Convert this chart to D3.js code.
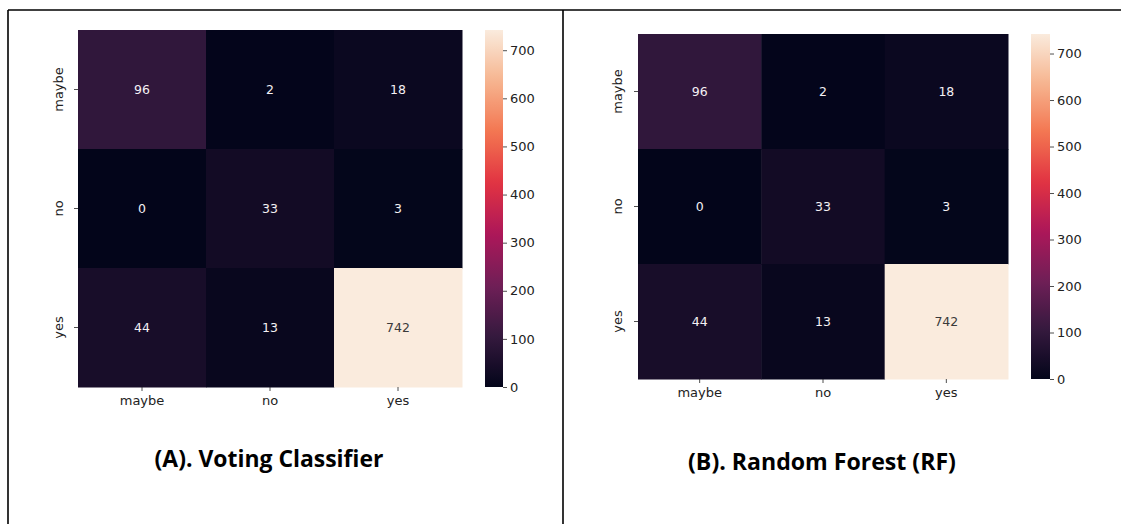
<!DOCTYPE html>
<html>
<head>
<meta charset="utf-8">
<script src="https://cdn.jsdelivr.net/npm/d3@7"></script>
<style>
  html, body { margin: 0; padding: 0; background: #fff; }
  svg { display: block; }
</style>
</head>
<body>
<svg id="chart" width="1121" height="524"></svg>
<script>
// ---- data ----
const categories = ["maybe", "no", "yes"];
const votingValues = [
  [96, 2, 18],
  [0, 33, 3],
  [44, 13, 742]
];
const rfValues = [
  [96, 2, 18],
  [0, 33, 3],
  [44, 13, 742]
];
const colorbarTicks = [0, 100, 200, 300, 400, 500, 600, 700];
const panelTitles = ["(A). Voting Classifier", "(B). Random Forest (RF)"];
// seaborn "rocket" colormap samples
const rocketStops = ["#03051a", "#35193e", "#701f57", "#ad1759", "#e13342", "#f37651", "#f6b48f", "#faebdd"];
const rocketPos = [0, 1/7, 2/7, 3/7, 4/7, 5/7, 6/7, 1];

// ---- layout ----
const panels = [
  { values: votingValues, title: panelTitles[0],
    x0: 78, x1: 462, y0: 30, y1: 387,
    cbx: 485, cbw: 18, titleX: 269, titleY: 467, titleW: 229, ylabX: 63 },
  { values: rfValues, title: panelTitles[1],
    x0: 638, x1: 1008, y0: 34, y1: 379,
    cbx: 1031, cbw: 19, titleX: 822, titleY: 470, titleW: 268, ylabX: 622 }
];

const svg = d3.select("#chart");
const tickFont = "DejaVu Sans, sans-serif";
const textColor = "#222";

const rocketPiece = d3.scaleLinear().domain(rocketPos).range(rocketStops).interpolate(d3.interpolateRgb).clamp(true);

// table border lines
svg.append("line").attr("x1", 8).attr("x2", 1121).attr("y1", 10).attr("y2", 10)
  .attr("stroke", "#000").attr("stroke-width", 1.6);
svg.append("line").attr("x1", 8).attr("x2", 8).attr("y1", 10).attr("y2", 524)
  .attr("stroke", "#000").attr("stroke-width", 1.6);
svg.append("line").attr("x1", 563).attr("x2", 563).attr("y1", 10).attr("y2", 524)
  .attr("stroke", "#000").attr("stroke-width", 1.6);

const defs = svg.append("defs");

panels.forEach((p, pi) => {
  const allVals = p.values.flat();
  const vmax = d3.max(allVals), vmin = 0;
  const color = v => rocketPiece((v - vmin) / (vmax - vmin));

  const x = d3.scaleBand().domain(categories).range([p.x0, p.x1]).padding(0);
  const y = d3.scaleBand().domain(categories).range([p.y0, p.y1]).padding(0);

  const g = svg.append("g");
  const cells = [];
  p.values.forEach((row, ri) => row.forEach((v, ci) => cells.push({ r: categories[ri], c: categories[ci], v })));

  g.selectAll("rect.cell").data(cells).join("rect")
    .attr("class", "cell")
    .attr("x", d => x(d.c)).attr("y", d => y(d.r))
    .attr("width", x.bandwidth() + 0.5).attr("height", y.bandwidth() + 0.5)
    .attr("fill", d => color(d.v));

  g.selectAll("text.ann").data(cells).join("text")
    .attr("class", "ann")
    .attr("x", d => x(d.c) + x.bandwidth() / 2)
    .attr("y", d => y(d.r) + y.bandwidth() / 2)
    .attr("dy", "0.35em")
    .attr("text-anchor", "middle")
    .attr("font-family", tickFont).attr("font-size", 12.5)
    .attr("fill", d => (d.v - vmin) / (vmax - vmin) > 0.6 ? "#3a3a3a" : "#f4f0f4")
    .text(d => d.v);

  // x axis
  const xAxis = d3.axisBottom(x).tickSize(4).tickPadding(5);
  const xg = svg.append("g").attr("transform", `translate(0,${p.y1})`).call(xAxis);
  xg.select(".domain").remove();
  xg.selectAll("line").attr("stroke", textColor).attr("stroke-width", 0.8);
  xg.selectAll("text").attr("font-family", tickFont).attr("font-size", 13).attr("fill", textColor);

  // y axis
  const yAxis = d3.axisLeft(y).tickSize(4).tickPadding(3);
  const yg = svg.append("g").attr("transform", `translate(${p.x0},0)`).call(yAxis);
  yg.select(".domain").remove();
  yg.selectAll("line").attr("stroke", textColor).attr("stroke-width", 0.8);
  yg.selectAll("text")
    .attr("font-family", tickFont).attr("font-size", 13).attr("fill", textColor)
    .attr("x", null).attr("dy", null).attr("y", 0)
    .attr("text-anchor", "middle")
    .attr("transform", `translate(${p.ylabX - p.x0},0) rotate(-90)`);

  // colorbar
  const cbScale = d3.scaleLinear().domain([vmin, vmax]).range([p.y1, p.y0]);
  const gradId = "rocketGrad" + pi;
  const grad = defs.append("linearGradient").attr("id", gradId)
    .attr("x1", 0).attr("x2", 0).attr("y1", 1).attr("y2", 0);
  d3.range(0, 1.0001, 0.02).forEach(t => {
    grad.append("stop").attr("offset", t).attr("stop-color", rocketPiece(t));
  });
  svg.append("rect").attr("x", p.cbx).attr("y", p.y0)
    .attr("width", p.cbw).attr("height", p.y1 - p.y0)
    .attr("fill", `url(#${gradId})`);
  const cbAxis = d3.axisRight(cbScale).tickValues(colorbarTicks).tickSize(4).tickPadding(3);
  const cg = svg.append("g").attr("transform", `translate(${p.cbx + p.cbw},0)`).call(cbAxis);
  cg.select(".domain").remove();
  cg.selectAll("line").attr("stroke", textColor).attr("stroke-width", 0.8);
  cg.selectAll("text").attr("font-family", tickFont).attr("font-size", 13).attr("fill", textColor);

  // title (font size fitted to the reference title width)
  const t = svg.append("text")
    .attr("x", p.titleX).attr("y", p.titleY)
    .attr("text-anchor", "middle")
    .attr("font-family", "'Open Sans', Lato, sans-serif")
    .attr("font-weight", "bold").attr("font-size", 20)
    .attr("fill", "#000")
    .text(p.title);
  const w = t.node().getComputedTextLength();
  if (w > 0) t.attr("font-size", Math.min(24, 20 * p.titleW / w));
});
</script>
</body>
</html>
